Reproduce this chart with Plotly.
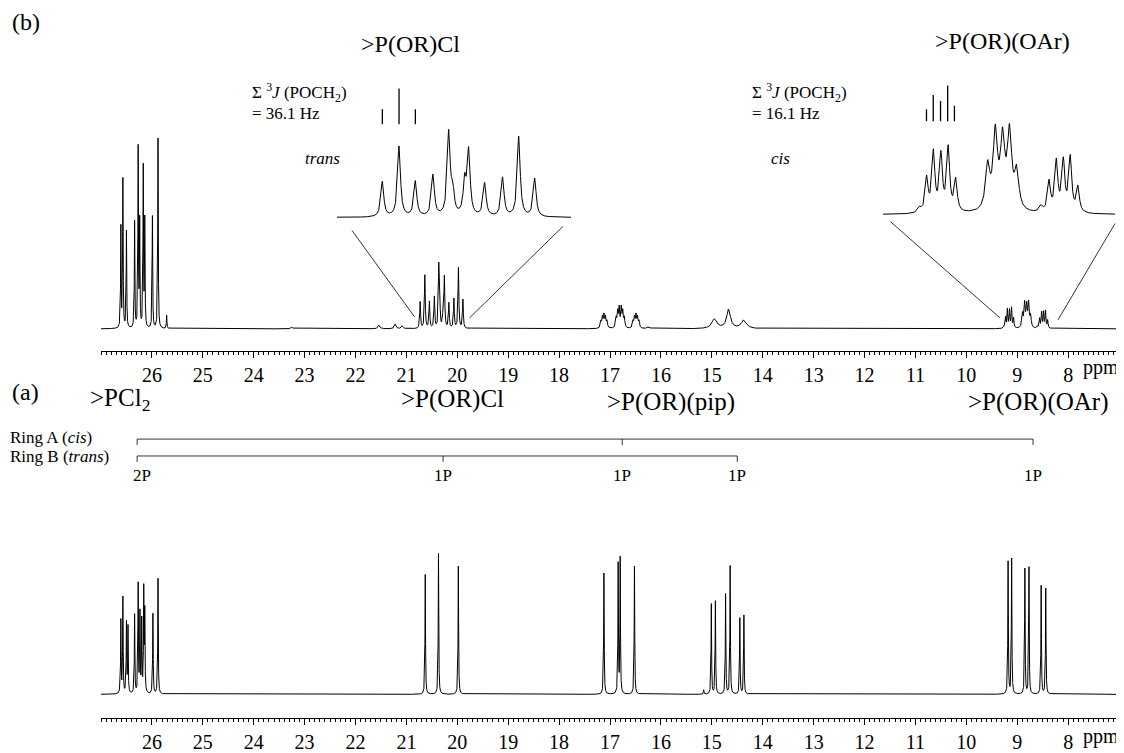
import numpy as np
import plotly.graph_objects as go

W, H = 1124, 753          # browser window
OFF = 8                   # default page margin around the plot div
FW, FH = W - OFF, H - OFF # figure size so that it ends at the window edges
SERIF = "Liberation Serif"

# ---------------- data ----------------
# Panel (a): 31P{1H} spectrum - line positions (ppm) and relative intensities
a_ppm = [26.61, 26.57, 26.50, 26.47, 26.34, 26.27, 26.235, 26.20, 26.16, 26.14, 25.98, 25.88,
         20.63, 20.37, 19.98,
         17.12, 16.84, 16.80, 16.52,
         15.16, 15.01, 14.93, 14.73, 14.64, 14.45, 14.37,
         9.18, 9.11, 8.85, 8.77, 8.53, 8.44]
a_int = [0.52, 0.68, 0.50, 0.47, 0.56, 0.77, 0.56, 0.51, 0.72, 0.56, 0.57, 0.82,
         0.85, 1.00, 0.91,
         0.86, 0.92, 0.96, 0.91,
         0.03, 0.64, 0.66, 0.71, 0.91, 0.54, 0.56,
         0.94, 0.96, 0.89, 0.90, 0.77, 0.75]
a_hw = 0.006

# Panel (b): proton-coupled 31P spectrum - positions, intensities, half-widths
b_ppm = [26.61, 26.57, 26.50, 26.34, 26.27, 26.24, 26.17, 26.14, 25.99, 25.88, 25.71,
         23.25, 21.54, 21.22, 21.08,
         20.730, 20.638, 20.548, 20.451, 20.364, 20.342, 20.276, 20.254, 20.166, 20.067, 19.978, 19.890,
         17.18, 17.15, 17.12, 17.09, 17.06,
         16.88, 16.85, 16.82, 16.78, 16.75, 16.72,
         16.55, 16.52, 16.49, 16.46, 16.43,
         16.24, 14.95, 14.67, 14.37,
         9.27, 9.231, 9.194, 9.153, 9.113, 9.072,
         8.897, 8.855, 8.815, 8.777, 8.738,
         8.605, 8.561, 8.521, 8.483, 8.445, 8.403]
b_int = [0.53, 0.78, 0.51, 0.56, 0.94, 0.55, 0.84, 0.56, 0.59, 1.00, 0.07,
         0.01, 0.02, 0.025, 0.015,
         0.140, 0.280, 0.140, 0.165, 0.330, 0.09, 0.13, 0.255, 0.132, 0.155, 0.318, 0.152,
         0.035, 0.055, 0.065, 0.055, 0.035,
         0.05, 0.08, 0.10, 0.10, 0.08, 0.05,
         0.035, 0.055, 0.065, 0.055, 0.035,
         0.01, 0.05, 0.10, 0.045,
         0.008, 0.056, 0.098, 0.093, 0.105, 0.053,
         0.072, 0.125, 0.112, 0.125, 0.062,
         0.010, 0.050, 0.083, 0.083, 0.090, 0.042]
b_hw = [0.006] * 11 + [0.02] * 4 + [0.0095] * 12 + [0.012] * 16 + [0.03, 0.06, 0.045, 0.06] \
       + [0.01] + [0.0095] * 5 + [0.014] * 5 + [0.01] + [0.0095] * 5

# axis scale
ppm_left, ppm_right = 27.0, 7.06
tick_ppm = list(range(8, 27))
tick_txt = [str(v) for v in tick_ppm]

# expansion windows (ppm) and where their guide lines meet the full spectrum
cl_win = [20.98, 19.69]
cl_guide_top = [20.897, 19.735]
cl_guide_bot = [20.84, 19.76]
oar_win = [9.47, 8.20]
oar_guide_top = [9.43, 8.20]
oar_guide_bot = [9.34, 8.20]

# stick diagrams of the 3J(POCH2) splitting
cl_stick_ppm = [20.730, 20.638, 20.548]
cl_stick_int = [1.0, 2.4, 1.0]
oar_stick_ppm = [9.232, 9.195, 9.155, 9.116, 9.079]
oar_stick_int = [1.0, 2.2, 1.7, 3.0, 1.3]

# ring assignment brackets (panel a)
ringA_ppm = [26.29, 16.76, 8.69]
ringB_ppm = [26.29, 20.28, 14.50]
np_label_ppm = [26.2, 20.28, 16.76, 14.50, 8.69]
np_label_txt = ["2P", "1P", "1P", "1P", "1P"]

# ---------------- geometry (window pixels) ----------------
MAIN_X = (101, 1116)
TOP = dict(base=331, top=139, bot=353)
BOT = dict(base=699, top=557, bot=723)
CL_X = (337, 571)
CL_Y = dict(base=219, top=130, bot=232)
OAR_X = (883, 1115)
OAR_Y = dict(base=216, top=124, bot=228)


def pxx(xpx):
    return (xpx - OFF) / FW


def py(ypx):
    return 1 - (ypx - OFF) / FH


def lorentz(x, ppm, inten, hw):
    p = np.asarray(ppm)[None, :]
    h = np.asarray(inten)[None, :]
    g = np.broadcast_to(np.asarray(hw, dtype=float), (len(ppm),))[None, :]
    return (h / (1.0 + ((x[:, None] - p) / g) ** 2)).sum(axis=1)


def yaxis_geom(g, vmax):
    dom = [py(g["bot"]), py(g["top"])]
    frac = (g["bot"] - g["base"]) / (g["bot"] - g["top"])
    lo = -frac * vmax / (1 - frac)
    return dom, [lo, vmax]


def ppm_to_px(ppm, xpx, rng):
    return xpx[0] + (rng[0] - ppm) / (rng[0] - rng[1]) * (xpx[1] - xpx[0])


x_full = np.arange(ppm_right, ppm_left + 1e-9, 0.001)
y_top = lorentz(x_full, b_ppm, b_int, b_hw)
y_bot = lorentz(x_full, a_ppm, a_int, a_hw)

x_cl = np.arange(cl_win[1], cl_win[0] + 1e-9, 0.0005)
y_cl = lorentz(x_cl, b_ppm, b_int, b_hw)
x_oar = np.arange(oar_win[1], oar_win[0] + 1e-9, 0.0005)
y_oar = lorentz(x_oar, b_ppm, b_int, b_hw)

line = dict(color="black", width=1)
fig = go.Figure()
fig.add_trace(go.Scatter(x=np.round(x_full, 4), y=np.round(y_top, 4), mode="lines", line=line,
                         xaxis="x", yaxis="y", hoverinfo="skip"))
fig.add_trace(go.Scatter(x=np.round(x_full, 4), y=np.round(y_bot, 4), mode="lines", line=line,
                         xaxis="x2", yaxis="y2", hoverinfo="skip"))
fig.add_trace(go.Scatter(x=np.round(x_cl, 4), y=np.round(y_cl, 4), mode="lines", line=line,
                         xaxis="x3", yaxis="y3", hoverinfo="skip"))
fig.add_trace(go.Scatter(x=np.round(x_oar, 4), y=np.round(y_oar, 4), mode="lines", line=line,
                         xaxis="x4", yaxis="y4", hoverinfo="skip"))

xdom = [pxx(MAIN_X[0]), pxx(MAIN_X[1])]
tickfont = dict(family=SERIF, size=20, color="black")
main_x = dict(domain=xdom, range=[ppm_left, ppm_right], showline=True, linecolor="black",
              linewidth=1, ticks="outside", ticklen=6, tickwidth=1, tickcolor="black",
              tickmode="array", tickvals=tick_ppm, ticktext=tick_txt, tickfont=tickfont,
              showgrid=False, zeroline=False, fixedrange=True,
              minor=dict(tick0=0, dtick=0.1, ticks="outside", ticklen=3, tickwidth=1,
                         tickcolor="black", showgrid=False))

dom_t, rng_t = yaxis_geom(TOP, float(y_top.max()))
dom_b, rng_b = yaxis_geom(BOT, float(y_bot.max()))
dom_c, rng_c = yaxis_geom(CL_Y, float(y_cl.max()))
dom_o, rng_o = yaxis_geom(OAR_Y, float(y_oar.max()))
hidden_y = dict(visible=False, fixedrange=True, showgrid=False, zeroline=False)

fig.update_layout(
    width=FW, height=FH, margin=dict(l=0, r=0, t=0, b=0),
    paper_bgcolor="white", plot_bgcolor="white", showlegend=False,
    xaxis=dict(main_x, anchor="y"),
    yaxis=dict(hidden_y, domain=dom_t, range=rng_t, anchor="x"),
    xaxis2=dict(main_x, anchor="y2"),
    yaxis2=dict(hidden_y, domain=dom_b, range=rng_b, anchor="x2"),
    xaxis3=dict(visible=False, domain=[pxx(CL_X[0]), pxx(CL_X[1])], range=cl_win, anchor="y3",
                fixedrange=True),
    yaxis3=dict(hidden_y, domain=dom_c, range=rng_c, anchor="x3"),
    xaxis4=dict(visible=False, domain=[pxx(OAR_X[0]), pxx(OAR_X[1])], range=oar_win, anchor="y4",
                fixedrange=True),
    yaxis4=dict(hidden_y, domain=dom_o, range=rng_o, anchor="x4"),
)

shapes = []
thin = dict(color="black", width=0.8)
main_rng = [ppm_left, ppm_right]
# guide lines from expansions to full spectrum
for top_ppm, bot_ppm, ytop_px, ybot_px in zip(cl_guide_top, cl_guide_bot, [232, 228], [319, 320]):
    shapes.append(dict(type="line", xref="paper", yref="paper",
                       x0=pxx(ppm_to_px(top_ppm, CL_X, cl_win)), y0=py(ytop_px),
                       x1=pxx(ppm_to_px(bot_ppm, MAIN_X, main_rng)), y1=py(ybot_px),
                       line=thin))
for top_ppm, bot_ppm, ytop_px, ybot_px in zip(oar_guide_top, oar_guide_bot, [223, 225], [320, 322]):
    shapes.append(dict(type="line", xref="paper", yref="paper",
                       x0=pxx(ppm_to_px(top_ppm, OAR_X, oar_win)), y0=py(ytop_px),
                       x1=pxx(ppm_to_px(bot_ppm, MAIN_X, main_rng)), y1=py(ybot_px),
                       line=thin))
# stick diagrams
for p, v in zip(cl_stick_ppm, cl_stick_int):
    shapes.append(dict(type="line", xref="x3", yref="paper", x0=p, x1=p,
                       y0=py(125), y1=py(125 - 15 * v), line=dict(color="black", width=1.3)))
for p, v in zip(oar_stick_ppm, oar_stick_int):
    shapes.append(dict(type="line", xref="x4", yref="paper", x0=p, x1=p,
                       y0=py(122), y1=py(122 - 12 * v), line=dict(color="black", width=1.3)))
# ring brackets
for ring, ypx in ((ringA_ppm, 442), (ringB_ppm, 459)):
    shapes.append(dict(type="line", xref="x2", yref="paper", x0=ring[0], x1=ring[-1],
                       y0=py(ypx), y1=py(ypx), line=thin))
    for p in ring:
        shapes.append(dict(type="line", xref="x2", yref="paper", x0=p, x1=p,
                           y0=py(ypx), y1=py(ypx + 6), line=thin))
fig.update_layout(shapes=shapes)

ann = []


def txt(text, xpx, ypx, size, xanchor="left", xref="paper", xval=None):
    ann.append(dict(text=text, x=(xval if xval is not None else pxx(xpx)), y=py(ypx),
                    xref=xref, yref="paper", xanchor=xanchor, yanchor="middle",
                    showarrow=False, font=dict(family=SERIF, size=size, color="black")))


txt("(b)", 10, 22, 24)
txt("&gt;P(OR)Cl", 410, 44, 24, "center")
txt("&gt;P(OR)(OAr)", 1003, 41, 24, "center")
txt("Σ <sup>3</sup><i>J</i> (POCH<sub>2</sub>)", 250, 93, 17)
txt("= 36.1 Hz", 250, 114, 17)
txt("<i>trans</i>", 322, 160, 17, "center")
txt("Σ <sup>3</sup><i>J</i> (POCH<sub>2</sub>)", 750, 93, 17)
txt("= 16.1 Hz", 750, 114, 17)
txt("<i>cis</i>", 780, 160, 17, "center")
txt("ppm", 1081, 370, 20)
txt("(a)", 10, 395, 24)
txt("&gt;PCl<sub>2</sub>", 88, 402, 25)
txt("&gt;P(OR)Cl", 452, 402, 25, "center")
txt("&gt;P(OR)(pip)", 671, 405, 25, "center")
txt("&gt;P(OR)(OAr)", 1038, 405, 25, "center")
txt("Ring A (<i>cis</i>)", 8, 440, 17)
txt("Ring B (<i>trans</i>)", 8, 460, 17)
for p, t in zip(np_label_ppm, np_label_txt):
    txt(t, 0, 479, 17, "center", xref="x2", xval=p)
txt("ppm", 1081, 741, 20)
fig.update_layout(annotations=ann)

fig.write_html("out.html")
